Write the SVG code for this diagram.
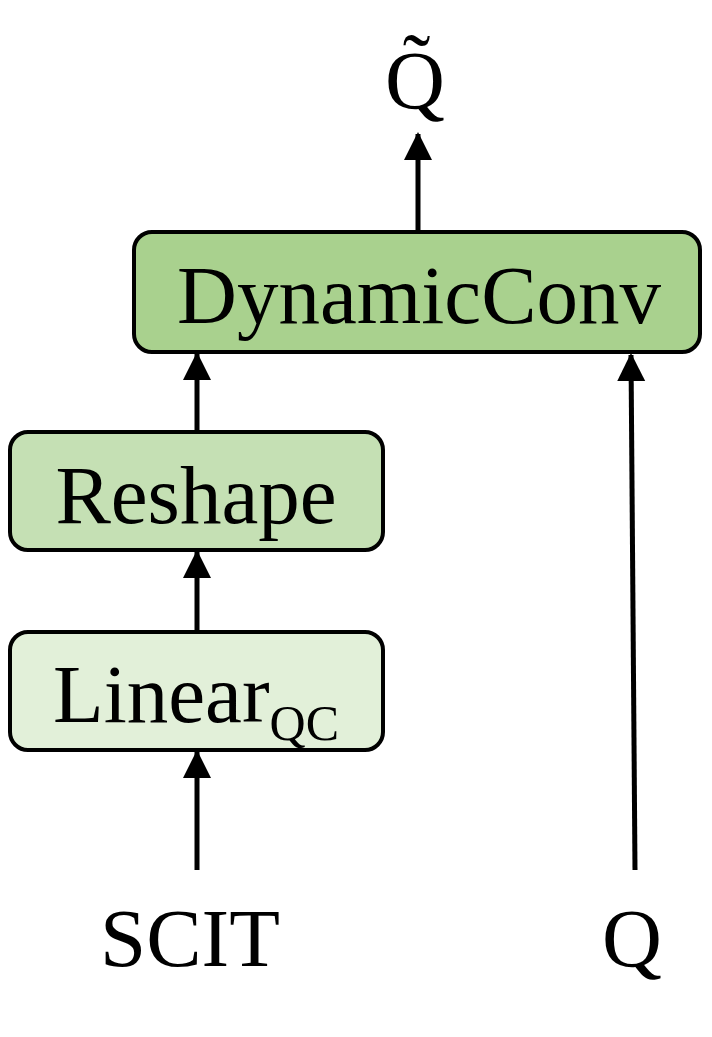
<svg xmlns="http://www.w3.org/2000/svg" width="712" height="1037" viewBox="0 0 712 1037">
<style>
.box{stroke:#000;stroke-width:4}
.t{font-family:"Liberation Serif",serif;font-size:83px;fill:#000;text-anchor:middle}
.c{stroke:#000;stroke-width:5;fill:none;marker-end:url(#ah)}
</style>
<defs><marker id="ah" markerUnits="userSpaceOnUse" markerWidth="28" markerHeight="36" refX="26" refY="14" orient="auto"><path d="M0,0 L28,14 L0,28 Z" fill="#000"/></marker></defs>
<rect width="712" height="1037" fill="#fff"/>
<g id="connectors">
<line class="c" x1="197" y1="870" x2="197" y2="752"/>
<line class="c" x1="197" y1="630" x2="197" y2="552"/>
<line class="c" x1="197" y1="430" x2="197" y2="354"/>
<line class="c" x1="635" y1="870" x2="631" y2="355"/>
<line class="c" x1="418" y1="232" x2="418" y2="134"/>
</g>
<g id="dynamicconv"><rect class="box" x="134" y="232" width="566" height="120" rx="18" fill="#a9d18e"/><text class="t" x="419" y="323">DynamicConv</text></g>
<g id="reshape"><rect class="box" x="10" y="432" width="373" height="118" rx="18" fill="#c5e0b4"/><text class="t" x="196" y="523">Reshape</text></g>
<g id="linear"><rect class="box" x="10" y="632" width="373" height="118" rx="18" fill="#e2f0d9"/><text class="t" x="196" y="722">Linear<tspan font-size="50" dy="18">QC</tspan></text></g>
<g id="scit"><text class="t" x="190" y="966">SCIT</text></g>
<g id="q"><text class="t" x="632" y="966">Q</text></g>
<g id="qtilde"><text class="t" x="415" y="108">Q̃</text></g>
</svg>
